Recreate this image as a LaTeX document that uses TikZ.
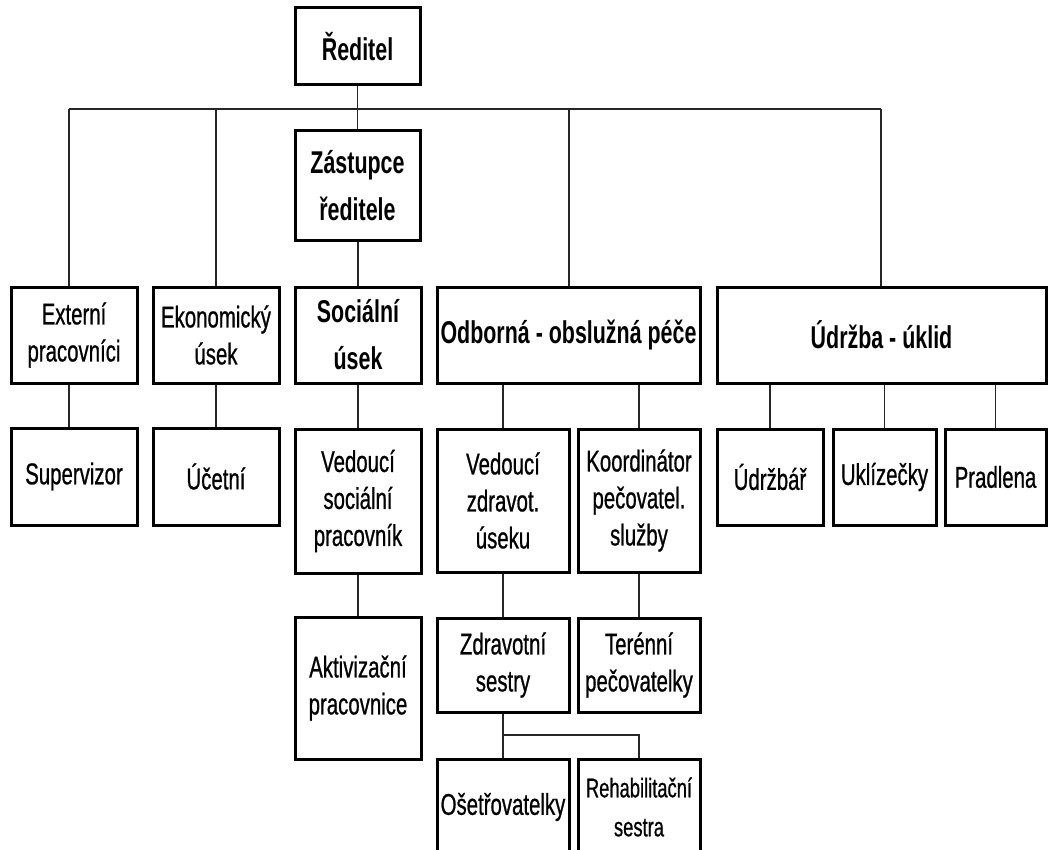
\documentclass[tikz,border=0pt]{standalone}
\usepackage{fontspec}
\setmainfont{Liberation Sans}[FakeStretch=0.68]
\newfontfamily\regfam{Liberation Sans}[FakeStretch=0.68,FakeBold=0.7]
\newcommand\myB{\bfseries\fontsize{31.5}{47}\selectfont}
\newcommand\myR{\regfam\fontsize{30}{37}\selectfont}
\newcommand\myS{\regfam\fontsize{27}{39}\selectfont}
\begin{document}
\begin{tikzpicture}[x=1pt,y=-1pt,
  bx/.style={draw=black, line width=3pt, inner sep=0pt, align=center, font=\myR, fill=white},
  bb/.style={bx, font=\myB},
  con/.style={draw=black!85, line width=1.5pt}]
\fill[white] (0,0) rectangle (1051,850);
\useasboundingbox (0,0) rectangle (1051,850);
\clip (0,0) rectangle (1051,850);
% coordinates
\coordinate (busL) at (69,109);
\coordinate (busR) at (881,109);
\coordinate (br) at (503,735);
% connectors first
\draw[con] (busL) -- (busR);
\draw[con] (357.5,46.5) -- (357.5,186);
\draw[con] (358,186) -- (358,335);
\draw[con] (busL) -- (69,335);
\draw[con] (69,335) -- (69,476);
\draw[con] (216,109) -- (216,476);
\draw[con] (358,335) -- (358,688);
\draw[con] (569,109) -- (569,335);
\draw[con] (busR) -- (881,335);
% level 1
\node[bb, minimum width=125pt, minimum height=77pt] (dir) at (357.5,46.5) {\raisebox{-3pt}{Ředitel}};
\node[bb, minimum width=125pt, minimum height=110pt] (zast) at (357.5,186) {Zástupce\\ředitele};
% level 2
\node[bx, minimum width=126pt, minimum height=96pt] (ext) at (74,335) {Externí\\pracovníci};
\node[bx, minimum width=126pt, minimum height=96pt] (eko) at (216,335) {Ekonomický\\úsek};
\node[bb, minimum width=126pt, minimum height=96pt] (soc) at (358,335) {Sociální\\úsek};
\node[bb, minimum width=263pt, minimum height=96pt] (odb) at (568.5,335) {Odborná - obslužná péče};
\node[bb, minimum width=329pt, minimum height=96pt] (udr) at (881.5,335) {Údržba - úklid};
% level 3
\node[bx, minimum width=126pt, minimum height=97pt] (sup) at (74,476.5) {Supervizor};
\node[bx, minimum width=126pt, minimum height=97pt] (uce) at (216,476.5) {Účetní};
\node[bx, minimum width=126pt, minimum height=144pt] (vsp) at (358,501) {Vedoucí\\sociální\\pracovník};
\node[bx, minimum width=132pt, minimum height=143pt] (vzu) at (503,500.5) {Vedoucí\\zdravot.\\úseku};
\node[bx, minimum width=122pt, minimum height=143pt] (koo) at (639,500.5) {Koordinátor\\pečovatel.\\služby};
\node[bx, minimum width=106pt, minimum height=96pt] (udrz) at (770,477) {Údržbář};
\node[bx, minimum width=103pt, minimum height=96pt] (ukl) at (884.5,477) {Uklízečky};
\node[bx, minimum width=101pt, minimum height=96pt] (pra) at (995.5,477) {Pradlena};
% level 4
\node[bx, minimum width=126pt, minimum height=142pt] (akt) at (358,688) {Aktivizační\\pracovnice};
\node[bx, minimum width=132pt, minimum height=94pt] (zdr) at (503,665) {Zdravotní\\sestry};
\node[bx, minimum width=122pt, minimum height=94pt] (ter) at (639,665) {Terénní\\pečovatelky};
% level 5
\node[bx, minimum width=132pt, minimum height=96pt] (ose) at (503,807) {Ošetřovatelky};
\node[bx, font=\myS, minimum width=122pt, minimum height=96pt] (reh) at (639,807) {Rehabilitační\\sestra};
% lower connectors
\draw[con] (odb.south -| vzu.north) -- (vzu.north);
\draw[con] (odb.south -| koo.north) -- (koo.north);
\draw[con] (udr.south -| udrz.north) -- (udrz.north);
\draw[con] (udr.south -| ukl.north) -- (ukl.north);
\draw[con] (udr.south -| pra.north) -- (pra.north);
\draw[con] (vzu.south) -- (zdr.north);
\draw[con] (koo.south) -- (ter.north);
\draw[con] (zdr.south) -- (ose.north);
\draw[con] (br) -| (reh.north);
\end{tikzpicture}
\end{document}
